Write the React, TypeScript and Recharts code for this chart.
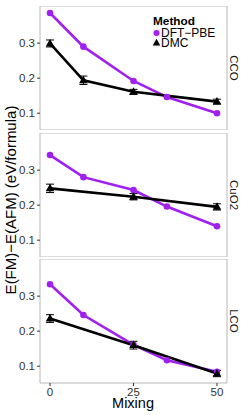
import React from "react";
import { LineChart, Line, XAxis, YAxis, ErrorBar, ReferenceArea } from "recharts";

const FONT = "'Liberation Sans', Arial, sans-serif";
const PURPLE = "#A020F0";

const panelNames = ["CCO", "CuO2", "LCO"];
const mixingTicks = [0, 25, 50];
const energyTicks = [0.1, 0.2, 0.3];

const mixingDFT = [0, 10, 25, 35, 50];
const ccoDFT = [0.386, 0.29, 0.192, 0.146, 0.1];
const cuo2DFT = [0.343, 0.28, 0.243, 0.196, 0.14];
const lcoDFT = [0.334, 0.246, 0.161, 0.117, 0.084];

const ccoDMCMixing = [0, 10, 25, 50];
const ccoDMC = [0.299, 0.194, 0.161, 0.133];
const ccoDMCErr = [0.01, 0.012, 0.007, 0.007];

const cuo2DMCMixing = [0, 25, 50];
const cuo2DMC = [0.248, 0.224, 0.195];
const cuo2DMCErr = [0.012, 0.009, 0.009];

const lcoDMCMixing = [0, 25, 50];
const lcoDMC = [0.236, 0.16, 0.079];
const lcoDMCErr = [0.011, 0.011, 0.009];

const build = (xs: number[], ys: number[], es?: number[]) =>
  xs.map((x, i) => ({ x, y: ys[i], e: es ? es[i] : 0 }));

const panelData = [
  { dft: build(mixingDFT, ccoDFT), dmc: build(ccoDMCMixing, ccoDMC, ccoDMCErr) },
  { dft: build(mixingDFT, cuo2DFT), dmc: build(cuo2DMCMixing, cuo2DMC, cuo2DMCErr) },
  { dft: build(mixingDFT, lcoDFT), dmc: build(lcoDMCMixing, lcoDMC, lcoDMCErr) },
];

const X_DOMAIN: [number, number] = [-3, 53];
const Y_DOMAIN: [number, number] = [0.052, 0.406];
const panelTops = [6, 133, 259];
const PANEL_H = 124;
const XAXIS_H = 32;

const Triangle = (props: any) => {
  const { cx, cy } = props;
  if (cx == null || cy == null) return null;
  const pts = `${cx},${cy - 4.6} ${cx - 4.3},${cy + 2.9} ${cx + 4.3},${cy + 2.9}`;
  return <polygon points={pts} fill="#000" stroke="none" />;
};

const tickStyle = { fontSize: 11.5, fill: "#333", fontFamily: FONT };

function Panel({ idx }: { idx: number }) {
  const last = idx === 2;
  const d = panelData[idx];
  return (
    <div style={{ position: "absolute", left: 0, top: panelTops[idx] }}>
      <LineChart
        width={249}
        height={PANEL_H + (last ? XAXIS_H : 0)}
        margin={{ top: 0, right: 22, bottom: 0, left: 0 }}
      >
        <XAxis
          dataKey="x"
          type="number"
          domain={X_DOMAIN}
          allowDataOverflow
          ticks={mixingTicks}
          hide={!last}
          height={XAXIS_H}
          tickSize={3}
          tickMargin={2}
          axisLine={false}
          tickLine={{ stroke: "#333" }}
          tick={tickStyle}
          interval={0}
        />
        <YAxis
          type="number"
          domain={Y_DOMAIN}
          allowDataOverflow
          ticks={energyTicks}
          width={40}
          tickSize={3}
          tickMargin={2}
          axisLine={false}
          tickLine={{ stroke: "#333" }}
          tick={tickStyle}
          tickFormatter={(v: number) => v.toFixed(1)}
          interval={0}
        />
        <ReferenceArea
          x1={X_DOMAIN[0]}
          x2={X_DOMAIN[1]}
          y1={Y_DOMAIN[0]}
          y2={Y_DOMAIN[1]}
          fill="none"
          stroke="#b8b8b8"
          strokeWidth={1}
          ifOverflow="visible"
        />
        <Line
          data={d.dft}
          dataKey="y"
          stroke={PURPLE}
          strokeWidth={2.6}
          dot={false}
          activeDot={false}
          isAnimationActive={false}
        />
        <Line
          data={d.dmc}
          dataKey="y"
          stroke="#000"
          strokeWidth={2.6}
          dot={false}
          activeDot={false}
          isAnimationActive={false}
        />
        <Line
          data={d.dft}
          dataKey="y"
          stroke="none"
          dot={{ r: 3.3, fill: PURPLE, stroke: "none" }}
          activeDot={false}
          isAnimationActive={false}
        />
        <Line
          data={d.dmc}
          dataKey="y"
          stroke="none"
          dot={<Triangle />}
          activeDot={false}
          isAnimationActive={false}
        >
          <ErrorBar dataKey="e" direction="y" width={4} stroke="#000" strokeWidth={1} />
        </Line>
      </LineChart>
    </div>
  );
}

export default function App() {
  return (
    <div
      style={{
        position: "absolute",
        left: 0,
        top: 0,
        width: 249,
        height: 415,
        background: "#fff",
        fontFamily: FONT,
      }}
    >
      {[0, 1, 2].map((i) => (
        <Panel key={i} idx={i} />
      ))}
      <svg
        width={249}
        height={415}
        style={{ position: "absolute", left: 0, top: 0, pointerEvents: "none" }}
      >
        <text
          transform="translate(16,200) rotate(-90)"
          textAnchor="middle"
          fontSize={15}
          fill="#000"
          fontFamily={FONT}
        >
          E(FM)−E(AFM) (eV/formula)
        </text>
        <text x={133} y={407.5} textAnchor="middle" fontSize={14.5} fill="#000" fontFamily={FONT}>
          Mixing
        </text>
        {panelNames.map((n, i) => (
          <text
            key={n}
            transform={`translate(230,${panelTops[i] + PANEL_H / 2}) rotate(90)`}
            textAnchor="middle"
            fontSize={11.5}
            fill="#1a1a1a"
            fontFamily={FONT}
          >
            {n}
          </text>
        ))}
        <text x={153} y={24.5} fontSize={11.8} fontWeight="bold" fill="#000" fontFamily={FONT}>
          Method
        </text>
        <rect x={152.5} y={28.5} width={8} height={9} fill="#f2f2f2" />
        <rect x={152.5} y={38.5} width={8} height={9} fill="#f2f2f2" />
        <circle cx={156.5} cy={33} r={3} fill={PURPLE} />
        <polygon points="156.5,38.8 152.8,45.6 160.2,45.6" fill="#000" />
        <text x={161} y={37} fontSize={12} fill="#000" fontFamily={FONT}>
          DFT−PBE
        </text>
        <text x={161} y={47} fontSize={12} fill="#000" fontFamily={FONT}>
          DMC
        </text>
      </svg>
    </div>
  );
}
